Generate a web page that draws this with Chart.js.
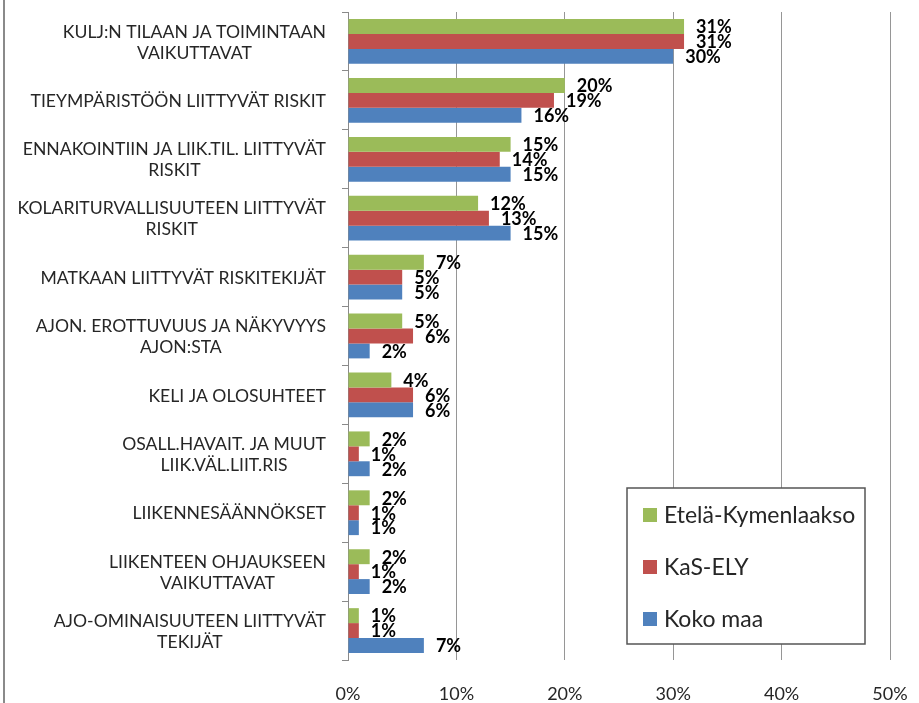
<!DOCTYPE html>
<html>
<head>
<meta charset="utf-8">
<title>Riskitekijät</title>
<script src="https://cdn.jsdelivr.net/npm/chart.js@4.4.0/dist/chart.umd.min.js"></script>
<style>
  html, body { margin: 0; padding: 0; background: #fff; }
  #wrap { width: 919px; height: 703px; }
</style>
</head>
<body>
<div id="wrap"><canvas id="chartRiskit" width="919" height="703"></canvas></div>
<script>
// luokat (rivitetty kuten alkuperäisessä)
const categories = [
  ["KULJ:N TILAAN JA TOIMINTAAN", "VAIKUTTAVAT"],
  ["TIEYMPÄRISTÖÖN LIITTYVÄT RISKIT"],
  ["ENNAKOINTIIN JA LIIK.TIL. LIITTYVÄT", "RISKIT"],
  ["KOLARITURVALLISUUTEEN LIITTYVÄT", "RISKIT"],
  ["MATKAAN LIITTYVÄT RISKITEKIJÄT"],
  ["AJON. EROTTUVUUS JA NÄKYVYYS", "AJON:STA"],
  ["KELI JA OLOSUHTEET"],
  ["OSALL.HAVAIT. JA MUUT", "LIIK.VÄL.LIIT.RIS"],
  ["LIIKENNESÄÄNNÖKSET"],
  ["LIIKENTEEN OHJAUKSEEN", "VAIKUTTAVAT"],
  ["AJO-OMINAISUUTEEN LIITTYVÄT", "TEKIJÄT"]
];

const etelaKymenlaakso = [31, 20, 15, 12, 7, 5, 4, 2, 2, 2, 1];
const kasEly = [31, 19, 14, 13, 5, 6, 6, 1, 1, 1, 1];
const kokoMaa = [30, 16, 15, 15, 5, 2, 6, 2, 1, 2, 7];

const seriesNames = ["Etelä-Kymenlaakso", "KaS-ELY", "Koko maa"];
const seriesColors = ["#9BBB59", "#C0504D", "#4F81BD"];

const xMin = 0, xMax = 50, xStep = 10;

Chart.defaults.font.family = "Lato, 'Open Sans', sans-serif";
Chart.defaults.color = "#262626";

// vasen reunaviiva
const frameLine = {
  id: "frameLine",
  beforeDraw(chart) {
    const ctx = chart.ctx;
    ctx.save();
    ctx.strokeStyle = "#8a8a8a";
    ctx.lineWidth = 2;
    ctx.beginPath();
    ctx.moveTo(4, 0);
    ctx.lineTo(4, chart.height);
    ctx.stroke();
    ctx.restore();
  }
};

// y-akselin tekstit: rivit keskitetty, lohko oikealle
const yLabels = {
  id: "yLabels",
  afterDraw(chart) {
    const ctx = chart.ctx;
    const scale = chart.scales.y;
    const lineH = 21;
    ctx.save();
    ctx.font = "17.6px Lato";
    ctx.fillStyle = "#262626";
    ctx.textAlign = "center";
    ctx.textBaseline = "middle";
    chart.data.labels.forEach((lines, i) => {
      const y = scale.getPixelForValue(i);
      const w = Math.max(...lines.map(l => ctx.measureText(l).width));
      const cx = scale.right - 22 - w / 2;
      lines.forEach((l, j) => {
        ctx.fillText(l, cx, y + 1 + (j - (lines.length - 1) / 2) * lineH);
      });
    });
    ctx.restore();
  }
};

// arvot palkkien perään
const valueLabels = {
  id: "valueLabels",
  afterDatasetsDraw(chart) {
    const ctx = chart.ctx;
    ctx.save();
    ctx.font = "bold 18px Lato";
    ctx.fillStyle = "#000";
    ctx.textAlign = "left";
    ctx.textBaseline = "middle";
    chart.data.datasets.forEach((ds, di) => {
      chart.getDatasetMeta(di).data.forEach((bar, i) => {
        ctx.fillText(ds.data[i] + "%", bar.x + 12, bar.y + 1);
      });
    });
    ctx.restore();
  }
};

// selite laatikossa kaavion sisällä
const boxLegend = {
  id: "boxLegend",
  afterDraw(chart) {
    const ctx = chart.ctx;
    const a = chart.chartArea;
    const w = 238, h = 156;
    const x = a.right - 25 - w, y = a.bottom - 16 - h;
    ctx.save();
    ctx.fillStyle = "#fff";
    ctx.fillRect(x, y, w, h);
    ctx.strokeStyle = "#555";
    ctx.lineWidth = 1.5;
    ctx.strokeRect(x, y, w, h);
    ctx.font = "23px Lato";
    ctx.textBaseline = "middle";
    ctx.textAlign = "left";
    chart.data.datasets.forEach((ds, i) => {
      const cy = y + 27 + i * 52;
      ctx.fillStyle = ds.backgroundColor;
      ctx.fillRect(x + 16, cy - 7, 14, 14);
      ctx.fillStyle = "#262626";
      ctx.fillText(ds.label, x + 37, cy + 1);
    });
    ctx.restore();
  }
};

new Chart(document.getElementById("chartRiskit"), {
  type: "bar",
  data: {
    labels: categories,
    datasets: [
      { label: seriesNames[0], data: etelaKymenlaakso, backgroundColor: seriesColors[0] },
      { label: seriesNames[1], data: kasEly, backgroundColor: seriesColors[1] },
      { label: seriesNames[2], data: kokoMaa, backgroundColor: seriesColors[2] }
    ]
  },
  options: {
    indexAxis: "y",
    responsive: false,
    animation: false,
    categoryPercentage: 0.76,
    barPercentage: 1.0,
    layout: { padding: { left: 0, right: 29, top: 12, bottom: 0 } },
    plugins: {
      legend: { display: false },
      tooltip: { enabled: false }
    },
    scales: {
      x: {
        min: xMin,
        max: xMax,
        afterFit(scale) { scale.height = 43; },
        border: { display: false },
        grid: { color: "#969696", lineWidth: 1, drawTicks: true, tickLength: 21, tickColor: "rgba(0,0,0,0)" },
        ticks: {
          stepSize: xStep,
          padding: 4,
          maxRotation: 0,
          font: { size: 18, lineHeight: 1 },
          color: "#262626",
          callback: v => v + "%"
        }
      },
      y: {
        afterFit(scale) { scale.width = 348; },
        border: { display: true, color: "#8a8a8a", width: 1 },
        grid: { drawOnChartArea: false, drawTicks: true, tickLength: 6, color: "#8a8a8a" },
        ticks: { display: false }
      }
    }
  },
  plugins: [frameLine, yLabels, valueLabels, boxLegend]
});
</script>
</body>
</html>
